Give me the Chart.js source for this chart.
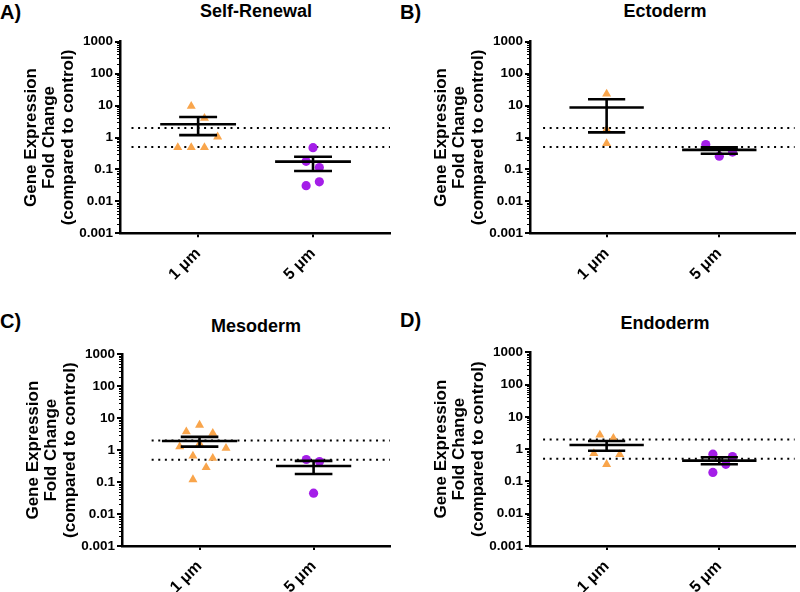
<!DOCTYPE html>
<html><head><meta charset="utf-8">
<script src="https://cdn.jsdelivr.net/npm/chart.js@4.4.1/dist/chart.umd.min.js"></script>
<style>
body{margin:0;background:#fff;width:800px;height:592px;position:relative;overflow:hidden;font-family:'Liberation Sans',Arial,sans-serif;}
canvas{position:absolute;}
.lbl{position:absolute;font-weight:bold;font-size:20px;line-height:20px;color:#000;white-space:nowrap;}
.ttl{position:absolute;font-weight:bold;font-size:18px;line-height:18px;color:#000;white-space:nowrap;transform:translateX(-50%);}
</style></head><body>
<div class="lbl" style="left:0;top:2px">A)</div>
<div class="lbl" style="left:400px;top:2px">B)</div>
<div class="lbl" style="left:0;top:311px">C)</div>
<div class="lbl" style="left:400px;top:310px">D)</div>
<div class="ttl" style="left:256px;top:1.5px">Self-Renewal</div>
<div class="ttl" style="left:665px;top:1.5px">Ectoderm</div>
<div class="ttl" style="left:256px;top:316.5px">Mesoderm</div>
<div class="ttl" style="left:665px;top:314px">Endoderm</div>
<canvas id="cA" width="400" height="290" style="left:0;top:0"></canvas>
<canvas id="cB" width="400" height="290" style="left:400px;top:0"></canvas>
<canvas id="cC" width="400" height="302" style="left:0;top:290px"></canvas>
<canvas id="cD" width="400" height="302" style="left:400px;top:290px"></canvas>
<script>
// ---------- data ----------
const categories = ['1 \u03bcm', '5 \u03bcm'];
const yTickValues = [0.001, 0.01, 0.1, 1, 10, 100, 1000];
const thresholds = [2, 0.5];

// Self-Renewal
const selfRenewal1um = [9.6, 4.0, 1.05, 0.49, 0.49, 0.49];
const selfRenewal1umJitter = [-0.06, 0.055, 0.17, -0.177, -0.06, 0.055];
const selfRenewal5um = [0.48, 0.18, 0.115, 0.041, 0.031];
const selfRenewal5umJitter = [0, -0.06, 0.055, 0.055, -0.06];
const selfRenewalMean = [2.6, 0.175];
const selfRenewalLow = [1.19, 0.089];
const selfRenewalHigh = [4.4, 0.25];

// Ectoderm
const ectoderm1um = [23, 1.8, 0.65];
const ectoderm1umJitter = [0, 0, 0];
const ectoderm5um = [0.6, 0.26, 0.35];
const ectoderm5umJitter = [-0.12, 0, 0.117];
const ectodermMean = [8.7, 0.41];
const ectodermLow = [1.45, 0.31];
const ectodermHigh = [15.8, 0.49];

// Mesoderm
const mesoderm1um = [6.1, 3.8, 3.4, 1.6, 1.28, 1.15, 0.66, 0.56, 0.29, 0.12];
const mesoderm1umJitter = [0, -0.116, 0.116, 0, -0.174, 0.232, -0.058, 0.116, 0.058, -0.058];
const mesoderm5um = [0.51, 0.44, 0.045];
const mesoderm5umJitter = [-0.064, 0.052, 0];
const mesodermMean = [1.94, 0.32];
const mesodermLow = [1.29, 0.18];
const mesodermHigh = [2.6, 0.46];

// Endoderm
const endoderm1um = [2.75, 2.2, 0.74, 0.69, 0.34];
const endoderm1umJitter = [-0.06, 0.06, -0.113, 0.116, 0];
const endoderm5um = [0.7, 0.59, 0.34, 0.19];
const endoderm5umJitter = [-0.057, 0.117, 0.058, -0.057];
const endodermMean = [1.35, 0.44];
const endodermLow = [0.89, 0.34];
const endodermHigh = [1.78, 0.56];

// ---------- styling / layout ----------
const ORANGE = '#F9A54B';
const PURPLE = '#A41EE8';
const FONT = "'Liberation Sans', Arial, sans-serif";
const X_MIN = 0.32, X_MAX = 2.67;
const MEAN_HALF = 0.33, CAP_HALF = 0.165;

const minorTicks = {
  id: 'minorTicks',
  afterDraw(chart) {
    const s = chart.scales.y, ctx = chart.ctx;
    ctx.save();
    ctx.strokeStyle = '#000';
    ctx.lineWidth = 1;
    for (let e = -3; e < 3; e++) {
      for (let k = 2; k < 10; k++) {
        const y = Math.round(s.getPixelForValue(k * Math.pow(10, e))) + 0.5;
        ctx.beginPath();
        ctx.moveTo(s.right - 3, y);
        ctx.lineTo(s.right, y);
        ctx.stroke();
      }
    }
    ctx.restore();
  }
};

function errorBarData(mean, low, high) {
  const d = [];
  mean.forEach((m, i) => {
    const c = i + 1;
    d.push({x: c - MEAN_HALF, y: m}, {x: c + MEAN_HALF, y: m}, {x: c, y: null});
    d.push({x: c - CAP_HALF, y: high[i]}, {x: c + CAP_HALF, y: high[i]}, {x: c, y: null});
    d.push({x: c - CAP_HALF, y: low[i]}, {x: c + CAP_HALF, y: low[i]}, {x: c, y: null});
    d.push({x: c, y: low[i]}, {x: c, y: high[i]}, {x: c, y: null});
  });
  return d;
}

function makeChart(id, g1, j1, g5, j5, mean, low, high, area) {
  const canvas = document.getElementById(id);
  const W = canvas.width, H = canvas.height;
  const datasets = [];
  thresholds.forEach(t => datasets.push({
    data: [{x: area.refStart, y: t}, {x: X_MAX, y: t}],
    showLine: true, borderColor: '#000', borderWidth: 2, borderDash: [2, 4.6],
    pointRadius: 0, order: 3
  }));
  datasets.push({
    data: g1.map((v, i) => ({x: 1 + j1[i], y: v})),
    pointStyle: 'triangle', pointRadius: 5.2, backgroundColor: ORANGE, borderWidth: 0, order: 2
  });
  datasets.push({
    data: g5.map((v, i) => ({x: 2 + j5[i], y: v})),
    pointStyle: 'circle', pointRadius: 4.6, backgroundColor: PURPLE, borderWidth: 0, order: 1
  });
  datasets.push({
    data: errorBarData(mean, low, high),
    showLine: true, spanGaps: false, borderColor: '#000', borderWidth: 2.6, borderCapStyle: 'butt',
    pointRadius: 0, order: 0
  });
  return new Chart(canvas, {
    type: 'scatter',
    data: {datasets},
    options: {
      responsive: false, animation: false,
      layout: {padding: {left: 0, top: area.top, right: W - area.right, bottom: 0}},
      plugins: {legend: {display: false}, tooltip: {enabled: false}},
      scales: {
        x: {
          type: 'linear', min: X_MIN, max: X_MAX,
          afterBuildTicks: ax => { ax.ticks = [{value: 1}, {value: 2}]; },
          afterFit: s => { s.height = H - area.bottom; },
          ticks: {
            autoSkip: false, minRotation: 45, maxRotation: 45, padding: 7,
            color: '#000', font: {family: FONT, size: 16, weight: 'bold'},
            callback: v => categories[v - 1]
          },
          grid: {drawOnChartArea: false, drawTicks: true, tickLength: 4, color: '#000', lineWidth: 2},
          border: {display: true, color: '#000', width: 2.5}
        },
        y: {
          type: 'logarithmic', min: 0.001, max: 1000,
          afterBuildTicks: ax => { ax.ticks = yTickValues.map(v => ({value: v, major: true})); },
          afterFit: s => { s.width = area.left; },
          ticks: {
            autoSkip: false, padding: 2, color: '#000',
            font: {family: FONT, size: 13.5, weight: 'bold'},
            callback: v => String(v)
          },
          grid: {drawOnChartArea: false, drawTicks: true, tickLength: 5, color: '#000', lineWidth: 2},
          border: {display: true, color: '#000', width: 2.5},
          title: {
            display: true,
            text: ['Gene Expression', 'Fold Change', '(compared to control)'],
            color: '#000',
            font: {family: FONT, size: 17, weight: 'bold', lineHeight: 1.1},
            padding: {top: area.left - 98.5, bottom: 0}
          }
        }
      }
    },
    plugins: [minorTicks]
  });
}

makeChart('cA', selfRenewal1um, selfRenewal1umJitter, selfRenewal5um, selfRenewal5umJitter,
  selfRenewalMean, selfRenewalLow, selfRenewalHigh,
  {left: 120, top: 41.7, right: 390, bottom: 233.3, refStart: 0.42});
makeChart('cB', ectoderm1um, ectoderm1umJitter, ectoderm5um, ectoderm5umJitter,
  ectodermMean, ectodermLow, ectodermHigh,
  {left: 130, top: 41.7, right: 400, bottom: 233.3, refStart: 0.436});
makeChart('cC', mesoderm1um, mesoderm1umJitter, mesoderm5um, mesoderm5umJitter,
  mesodermMean, mesodermLow, mesodermHigh,
  {left: 122, top: 64.3, right: 390, bottom: 256, refStart: 0.58});
makeChart('cD', endoderm1um, endoderm1umJitter, endoderm5um, endoderm5umJitter,
  endodermMean, endodermLow, endodermHigh,
  {left: 130, top: 62.3, right: 400, bottom: 256, refStart: 0.436});
</script>
</body></html>
